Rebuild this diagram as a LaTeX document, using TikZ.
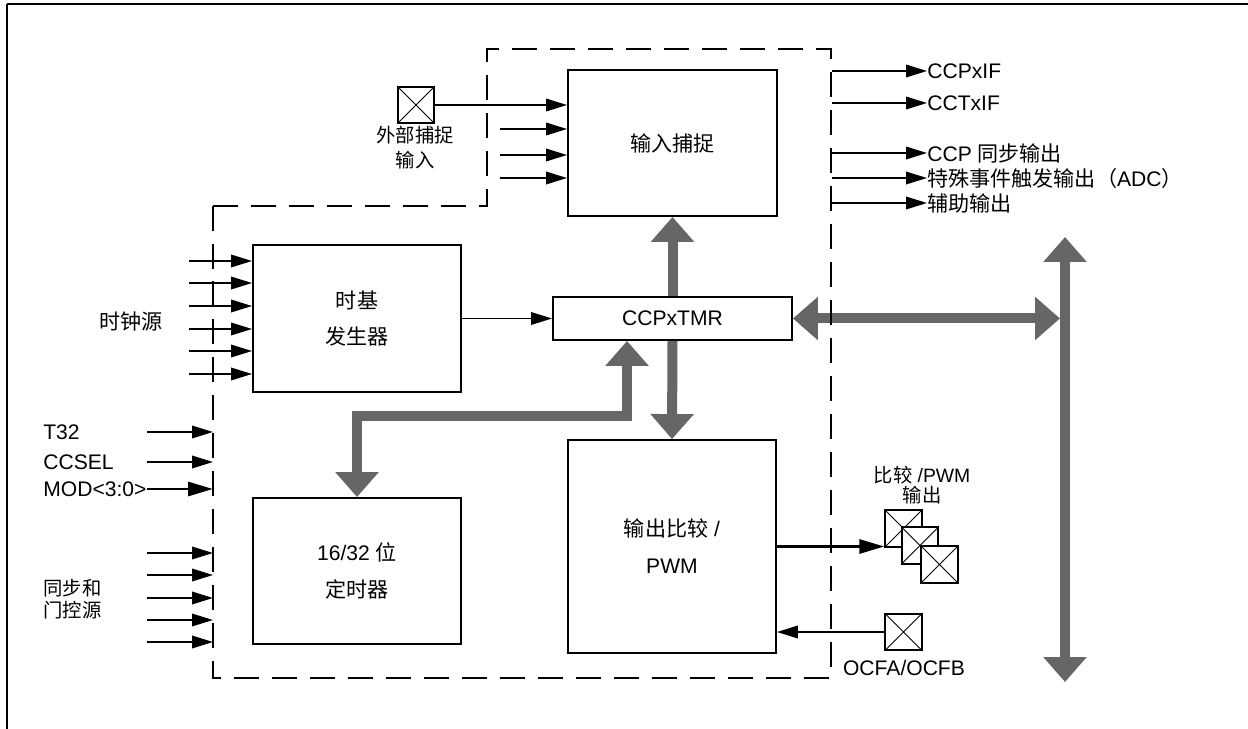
\documentclass[tikz,border=0pt]{standalone}
\usepackage{fontspec}
\setmainfont{Liberation Sans}
\newfontfamily\cjk{Noto Sans CJK SC}
\usetikzlibrary{arrows.meta, positioning, calc}
\tikzset{>=Latex}
\tikzset{
  sigtip/.tip={Triangle[length=0.42cm, width=0.25cm]},
  widetip/.tip={Triangle[length=0.5cm, width=0.28cm]},
  bigtip/.tip={Triangle[length=0.5cm, width=0.84cm]},
  blockbox/.style={draw, line width=1.1pt, inner sep=0pt, align=center,
    font=\fontsize{12}{21}\selectfont},
  pinbox/.style={draw, line width=1.1pt, fill=white, minimum size=0.73cm, inner sep=0pt,
    path picture={\draw[line width=0.5pt]
      (path picture bounding box.south west) -- (path picture bounding box.north east)
      (path picture bounding box.north west) -- (path picture bounding box.south east);}},
  sig/.style={line width=1.1pt, -sigtip},
  bus/.style={line width=0.2cm, draw=black!60, line join=miter},
  dashbox/.style={line width=1.1pt, dash pattern=on 0.5cm off 0.26cm},
  lbl/.style={inner sep=0pt, font=\fontsize{12}{14}\selectfont},
  twolbl/.style={inner sep=0pt, font=\fontsize{11}{12.5}\selectfont},
}

\begin{document}
\begin{tikzpicture}[x=0.02cm, y=-0.02cm]

         % Rahmen
         \useasboundingbox (0,0) rectangle (1248,729);
         \draw[line width=1.7pt] (1248,4) -- (7,4);
         \draw[line width=0.9pt] (7,4) -- (7,729);

         % Bloecke
         \node[blockbox, minimum width=4.18cm, minimum height=2.92cm] (capture) at (672.5,143) {{\cjk 输入捕捉}};
         \node[blockbox, minimum width=4.16cm, minimum height=2.94cm] (zeitbasis) at (357,318.5) {{\cjk 时基}\\{\cjk 发生器}};
         \node[blockbox, minimum width=4.78cm, minimum height=0.86cm, font=\fontsize{12}{14}\selectfont] (tmr) at (672.5,318.5) {CCPxTMR};
         \node[blockbox, minimum width=4.16cm, minimum height=2.92cm] (timer) at (357,571) {16/32 {\cjk 位}\\{\cjk 定时器}};
         \node[blockbox, minimum width=4.16cm, minimum height=4.26cm] (compare) at (672,546.5) {{\cjk 输出比较} /\\PWM};

         % Busse (grau)
         \coordinate (busN) at (1065,237);
         \coordinate (busS) at (1065,682);
         \coordinate (knick) at (627,416);
         \draw[bus, -bigtip] (tmr.north) -- (capture.south);
         \draw[bus, -bigtip] (tmr.south) -- (compare.north);
         \draw[bus, bigtip-bigtip] (timer.north) |- (knick) -- (knick |- tmr.south);
         \draw[bus, bigtip-bigtip] (tmr.east) -- ([xshift=-0.1cm]tmr.east -| busN);
         \draw[bus, bigtip-bigtip] (busN) -- (busS);

         % gestrichelter Bereich
         \coordinate (dashNW) at (213,206);
         \coordinate (dashNE) at (831,49);
         \draw[dashbox] (dashNW) -- (487,206) -- (487,49) -- (dashNE) -- (831,678) -- (213,678) -- cycle;

         % externer Eingang
         \node[pinbox] (extpin) at (416,105) {};
         \node[twolbl, align=center, font=\fontsize{11}{14.2}\selectfont] (extlabel) at (415,147.5) {{\cjk 外部捕捉}\\{\cjk 输入}};
         \draw[sig] (extpin.east) -- (extpin.east -| capture.west);
         \foreach \yy in {129,155,178} {
            \coordinate (capin\yy) at (500,\yy);
            \draw[sig] (capin\yy) -- (capin\yy -| capture.west);
         }

         % Ausgaenge rechts
         \foreach \yy/\nm/\txt in {71/ccpif/CCPxIF, 103/cctif/CCTxIF,
               153/sync/{CCP {\cjk 同步输出}},
               178/adc/{{\cjk 特殊事件触发输出（}ADC{\cjk ）}},
               203/aux/{{\cjk 辅助输出}}} {
            \coordinate (out\nm) at (832,\yy);
            \node[lbl, anchor=west] (lbl\nm) at (927,\yy) {\txt};
            \draw[sig] (out\nm) -- (lbl\nm.west);
         }

         % Taktquellen
         \node[lbl] (clklabel) at (131,322) {{\cjk 时钟源}};
         \foreach \yy in {261,283,306,329,351,374} {
            \coordinate (clk\yy) at (189,\yy);
            \draw[sig] (clk\yy) -- (clk\yy -| zeitbasis.west);
         }
         \draw[sig] (zeitbasis.east |- tmr.west) -- (tmr.west);

         % Steuersignale
         \node[lbl, anchor=west] (t32) at (43,432) {T32};
         \node[lbl, anchor=west] (ccsel) at (43,462) {CCSEL};
         \node[lbl, anchor=west] (mode) at (43,489) {MOD<3:0>};
         \coordinate (t32s) at (147,432);
         \coordinate (ccsels) at (147,462);
         \draw[sig] (t32s) -- (t32s -| dashNW);
         \draw[sig] (ccsels) -- (ccsels -| dashNW);
         \draw[sig, line width=1.7pt, -widetip] (mode.east) -- (mode.east -| dashNW);

         % Synchron- und Gate-Quellen
         \node[twolbl, anchor=west, align=left] (gatelabel) at (43,599) {{\cjk 同步和}\\{\cjk 门控源}};
         \foreach \yy in {553,575,598,620,642} {
            \coordinate (gate\yy) at (147,\yy);
            \draw[sig] (gate\yy) -- (gate\yy -| dashNW);
         }

         % Vergleich / PWM Ausgang
         \node[pinbox] (pwmpin1) at (903.5,528.5) {};
         \node[pinbox] (pwmpin2) at (920,545.5) {};
         \node[pinbox] (pwmpin3) at (939.5,564.5) {};
         \node[twolbl, align=center, font=\fontsize{11}{11.5}\selectfont] (pwmlabel) at (922,485) {{\cjk 比较} /PWM\\{\cjk 输出}};
         \draw[sig, line width=1.7pt, -widetip] (compare.east) -- (compare.east -| pwmpin1.west);

         % Fehlereingang
         \node[pinbox] (ocpin) at (903.5,632) {};
         \node[lbl] (oclabel) at (904,668) {OCFA/OCFB};
         \draw[sig] (ocpin.west) -- (ocpin.west -| compare.east);

      \end{tikzpicture}
\end{document}
